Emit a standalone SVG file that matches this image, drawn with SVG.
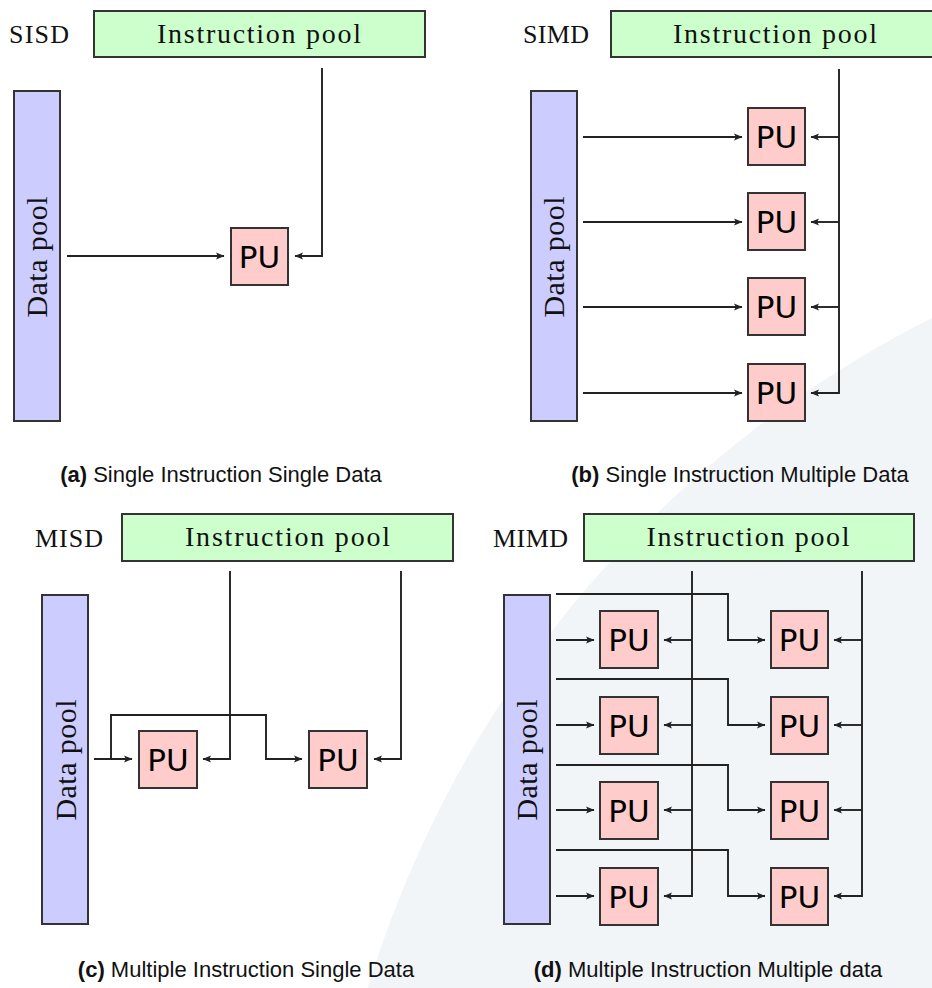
<svg xmlns="http://www.w3.org/2000/svg" width="932" height="988" viewBox="0 0 932 988">
<style>
.ip{fill:#ccffcc;stroke:#333;stroke-width:2}
.dp{fill:#ccccff;stroke:#333;stroke-width:2}
.pu{fill:#ffcccc;stroke:#333;stroke-width:2}
.ser{font-family:"Liberation Serif","DejaVu Serif",serif;fill:#111}
.lbl{font-size:26px}
.ipt{font-size:28px;text-anchor:middle}
.dpt{font-size:30px;text-anchor:middle}
.put{font-family:"DejaVu Sans","Noto Sans",sans-serif;font-size:31px;text-anchor:middle;fill:#000}
.cap{font-family:"Liberation Sans",Arial,sans-serif;font-size:22px;text-anchor:middle;fill:#111}
.cn{fill:none;stroke:#222;stroke-width:1.9}
.ar{marker-end:url(#ah)}
</style>
<defs>
<marker id="ah" markerUnits="userSpaceOnUse" markerWidth="10" markerHeight="9" refX="8" refY="4.5" orient="auto">
<path d="M0,1 L8.5,4.5 L0,8 L1.8,4.5 z" fill="#222"/>
</marker>
</defs>
<rect width="932" height="988" fill="#fff"/>
<g id="watermark">
<circle cx="1430" cy="1310" r="1110" fill="#f2f5f8"/>
</g>

<!-- (a) SISD -->
<g id="a-label"><text class="ser lbl" x="9" y="43" textLength="60">SISD</text></g>
<g id="a-instr"><rect class="ip" x="94" y="11" width="331" height="46"/><text class="ser ipt" x="259" y="43" textLength="204">Instruction pool</text></g>
<g id="a-data"><rect class="dp" x="14" y="91" width="46" height="330"/><text class="ser dpt" transform="translate(47,257) rotate(-90)" textLength="121">Data pool</text></g>
<g id="a-pu"><rect class="pu" x="231" y="228" width="57" height="57"/><text class="put" x="259.5" y="267.5">PU</text></g>
<g id="a-caption"><text class="cap" x="221" y="482"><tspan font-weight="bold">(a)</tspan> Single Instruction Single Data</text></g>

<!-- (b) SIMD -->
<g id="b-label"><text class="ser lbl" x="523" y="43" textLength="66">SIMD</text></g>
<g id="b-instr"><rect class="ip" x="611" y="11" width="330" height="46"/><text class="ser ipt" x="775" y="43" textLength="204">Instruction pool</text></g>
<g id="b-data"><rect class="dp" x="531" y="91" width="46" height="330"/><text class="ser dpt" transform="translate(564,257) rotate(-90)" textLength="121">Data pool</text></g>
<g id="b-pu1"><rect class="pu" x="748" y="108" width="57" height="57"/><text class="put" x="776.5" y="147.5">PU</text></g>
<g id="b-pu2"><rect class="pu" x="748" y="193" width="57" height="57"/><text class="put" x="776.5" y="232.5">PU</text></g>
<g id="b-pu3"><rect class="pu" x="748" y="278" width="57" height="57"/><text class="put" x="776.5" y="317.5">PU</text></g>
<g id="b-pu4"><rect class="pu" x="748" y="364" width="57" height="57"/><text class="put" x="776.5" y="403.5">PU</text></g>
<g id="b-caption"><text class="cap" x="740" y="482"><tspan font-weight="bold">(b)</tspan> Single Instruction Multiple Data</text></g>

<!-- (c) MISD -->
<g id="c-label"><text class="ser lbl" x="35" y="547" textLength="68">MISD</text></g>
<g id="c-instr"><rect class="ip" x="122" y="514" width="331" height="47"/><text class="ser ipt" x="287.5" y="546" textLength="205">Instruction pool</text></g>
<g id="c-data"><rect class="dp" x="42" y="595" width="46" height="329"/><text class="ser dpt" transform="translate(76,760) rotate(-90)" textLength="121">Data pool</text></g>
<g id="c-pu1"><rect class="pu" x="139" y="731" width="58" height="57"/><text class="put" x="168" y="770.5">PU</text></g>
<g id="c-pu2"><rect class="pu" x="309" y="731" width="58" height="57"/><text class="put" x="338" y="770.5">PU</text></g>
<g id="c-caption"><text class="cap" x="246" y="977"><tspan font-weight="bold">(c)</tspan> Multiple Instruction Single Data</text></g>

<!-- (d) MIMD -->
<g id="d-label"><text class="ser lbl" x="493" y="547" textLength="75">MIMD</text></g>
<g id="d-instr"><rect class="ip" x="584" y="514" width="330" height="47"/><text class="ser ipt" x="748" y="546" textLength="203">Instruction pool</text></g>
<g id="d-data"><rect class="dp" x="504" y="595" width="46" height="329"/><text class="ser dpt" transform="translate(537,760) rotate(-90)" textLength="121">Data pool</text></g>
<g id="d-pu11"><rect class="pu" x="600" y="611" width="58" height="57"/><text class="put" x="629" y="650.5">PU</text></g>
<g id="d-pu12"><rect class="pu" x="600" y="697" width="58" height="57"/><text class="put" x="629" y="736.5">PU</text></g>
<g id="d-pu13"><rect class="pu" x="600" y="782" width="58" height="57"/><text class="put" x="629" y="821.5">PU</text></g>
<g id="d-pu14"><rect class="pu" x="600" y="868" width="58" height="57"/><text class="put" x="629" y="907.5">PU</text></g>
<g id="d-pu21"><rect class="pu" x="771" y="611" width="57" height="57"/><text class="put" x="799.5" y="650.5">PU</text></g>
<g id="d-pu22"><rect class="pu" x="771" y="697" width="57" height="57"/><text class="put" x="799.5" y="736.5">PU</text></g>
<g id="d-pu23"><rect class="pu" x="771" y="782" width="57" height="57"/><text class="put" x="799.5" y="821.5">PU</text></g>
<g id="d-pu24"><rect class="pu" x="771" y="868" width="57" height="57"/><text class="put" x="799.5" y="907.5">PU</text></g>
<g id="d-caption"><text class="cap" x="708" y="977"><tspan font-weight="bold">(d)</tspan> Multiple Instruction Multiple data</text></g>

<g id="connectors">
<!-- a -->
<path class="cn ar" d="M67,256 H224"/>
<path class="cn ar" d="M322,68 V256 H295"/>
<!-- b -->
<path class="cn ar" d="M583,137 H742"/>
<path class="cn ar" d="M583,222 H742"/>
<path class="cn ar" d="M583,307 H742"/>
<path class="cn ar" d="M583,393 H742"/>
<path class="cn ar" d="M839,69 V393 H811"/>
<path class="cn ar" d="M839,137 H811"/>
<path class="cn ar" d="M839,222 H811"/>
<path class="cn ar" d="M839,307 H811"/>
<!-- c -->
<path class="cn ar" d="M94,759 H132"/>
<path class="cn ar" d="M111,759 V715 H266 V759 H302"/>
<path class="cn ar" d="M230,571 V759 H203"/>
<path class="cn ar" d="M401,571 V759 H374"/>
<!-- d -->
<path class="cn ar" d="M556,640 H594"/>
<path class="cn ar" d="M556,725 H594"/>
<path class="cn ar" d="M556,810 H594"/>
<path class="cn ar" d="M556,896 H594"/>
<path class="cn ar" d="M556,594 H728 V640 H765"/>
<path class="cn ar" d="M556,679 H728 V725 H765"/>
<path class="cn ar" d="M556,765 H728 V810 H765"/>
<path class="cn ar" d="M556,850 H728 V896 H765"/>
<path class="cn ar" d="M692,571 V896 H664"/>
<path class="cn ar" d="M692,640 H664"/>
<path class="cn ar" d="M692,725 H664"/>
<path class="cn ar" d="M692,810 H664"/>
<path class="cn ar" d="M862,571 V896 H834"/>
<path class="cn ar" d="M862,640 H834"/>
<path class="cn ar" d="M862,725 H834"/>
<path class="cn ar" d="M862,810 H834"/>
</g>
</svg>
